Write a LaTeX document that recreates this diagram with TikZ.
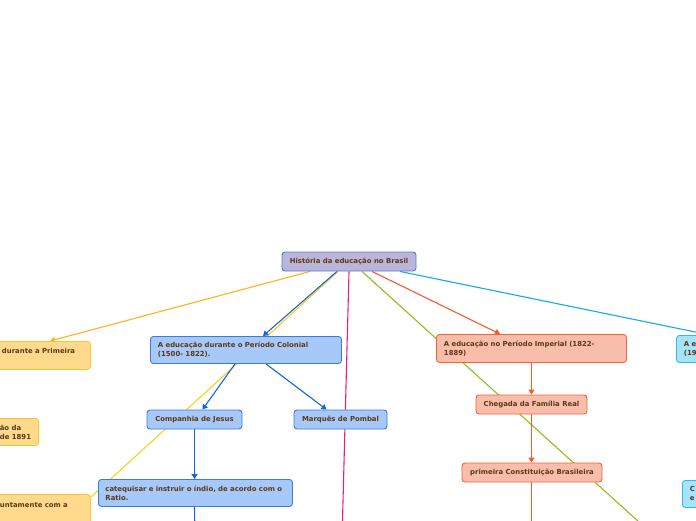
\documentclass[tikz,border=0pt]{standalone}
\usepackage{fontspec}
\setmainfont{DejaVu Sans}
\usetikzlibrary{arrows.meta,calc,backgrounds}
\definecolor{txt}{RGB}{92,56,22}
\definecolor{rootfill}{RGB}{187,181,218}
\definecolor{rootdraw}{RGB}{82,122,214}
\definecolor{bluefill}{RGB}{167,201,250}
\definecolor{bluedraw}{RGB}{58,124,220}
\definecolor{salfill}{RGB}{249,189,171}
\definecolor{saldraw}{RGB}{242,100,58}
\definecolor{yelfill}{RGB}{255,218,140}
\definecolor{yeldraw}{RGB}{255,194,51}
\definecolor{cyafill}{RGB}{166,228,250}
\definecolor{cyadraw}{RGB}{50,182,238}
\definecolor{lorange}{RGB}{251,180,26}
\definecolor{lblue}{RGB}{22,100,216}
\definecolor{lyellow}{RGB}{245,211,26}
\definecolor{lpink}{RGB}{238,29,122}
\definecolor{lgreen}{RGB}{141,191,30}
\definecolor{lred}{RGB}{244,91,42}
\definecolor{lcyan}{RGB}{21,169,232}
\begin{document}
\begin{tikzpicture}[x=1pt,y=1pt,
  box/.style={draw, rounded corners=3pt, line width=0.9pt,
    font=\fontsize{6.9}{9}\selectfont\bfseries, text=txt,
    inner xsep=7.5pt, inner ysep=2pt, minimum height=19pt},
  mbox/.style={box, align=left, minimum height=27pt},
  rootbox/.style={box, fill=rootfill, draw=rootdraw},
  bluebox/.style={fill=bluefill, draw=bluedraw},
  salbox/.style={fill=salfill, draw=saldraw},
  yelbox/.style={fill=yelfill, draw=yeldraw},
  cyabox/.style={fill=cyafill, draw=cyadraw},
  conn/.style={line width=1.1pt},
  arr/.style={conn, -{Triangle[length=5pt,width=6pt]}}
]
\useasboundingbox (0,0) rectangle (696,-520);
\clip (0,0) rectangle (696,-520);

% nodes
\node[rootbox, minimum width=134pt] (root) at (349,-261.5) {História da educação no Brasil};

\node[mbox, yelbox, anchor=north west, text width=81pt, minimum height=28pt] (y1) at (-6,-341) {durante a Primeira\\\mbox{}};
\node[mbox, bluebox, anchor=north west, text width=176pt] (colonial) at (150,-336) {A educação durante o Período Colonial\\(1500- 1822).};
\node[mbox, salbox, anchor=north west, text width=175pt, minimum height=28pt] (imperial) at (436,-334) {A educação no Período Imperial (1822-\\1889)};
\node[mbox, cyabox, anchor=north west, text width=45pt] (cya) at (676,-335) {A e\\(19};

\node[mbox, yelbox, anchor=north east] (y2) at (39,-418) {ão da\\de 1891};
\node[box, bluebox, minimum width=95pt] (companhia) at (194.5,-419.5) {Companhia de Jesus};
\node[box, bluebox, minimum width=93pt] (marques) at (340.5,-419.5) {Marquês de Pombal};
\node[box, salbox, minimum width=111pt] (chegada) at (531.5,-404.5) {Chegada da Família Real};
\node[box, salbox, minimum width=140pt] (primeira) at (532,-472.5) {primeira Constituição Brasileira};
\node[mbox, bluebox, anchor=north west, text width=180pt, inner xsep=7pt] (catequisar) at (98,-479) {catequisar e instruir o índio, de acordo com o\\Ratio.};
\node[mbox, yelbox, anchor=north west, text width=83pt, minimum height=40pt] (y3) at (-8,-494) {untamente com a\\\mbox{}\\\mbox{}};
\node[mbox, cyabox, anchor=north west, text width=45pt] (cyc) at (682,-480) {C\\e};

\coordinate (pinkend) at (342,-540);
\coordinate (greenend) at (660,-541);
\coordinate (catend) at (195,-540);
\coordinate (primend) at (531.5,-540);

\begin{pgfonlayer}{background}
\draw[arr, lorange] ($(root.south)+(-39,0)$) -- ($(y1.north west)+(56,0)$);
\draw[conn, lyellow] ($(root.south)+(-11,0)$) -- ($(y3.north east)+(0,-3)$);
\draw[arr, lblue] ($(root.south)+(-12,0)$) -- ($(colonial.north west)+(113,0)$);
\draw[conn, lpink] (root.south) -- (pinkend);
\draw[conn, lgreen] ($(root.south)+(13,0)$) -- (greenend);
\draw[arr, lred] ($(root.south)+(23,0)$) -- ($(imperial.north west)+(64,0)$);
\draw[arr, lcyan] ($(root.south)+(51,0)$) -- ($(cya.north west)+(34,0)$);

\draw[arr, lblue] ($(colonial.south west)+(85,0)$) -- ($(companhia.north)+(8,0)$);
\draw[arr, lblue] ($(colonial.south west)+(116,0)$) -- ($(marques.north)+(-14,0)$);
\draw[arr, lblue] (companhia.south) -- (catequisar.north -| companhia.south);
\draw[conn, lblue] (catequisar.south -| companhia.south) -- (catend);
\draw[arr, lred] (imperial.south -| chegada.north) -- (chegada.north);
\draw[arr, lred] (chegada.south) -- (primeira.north -| chegada.south);
\draw[conn, lred] (primeira.south -| chegada.south) -- (primend);
\end{pgfonlayer}
\end{tikzpicture}
\end{document}
